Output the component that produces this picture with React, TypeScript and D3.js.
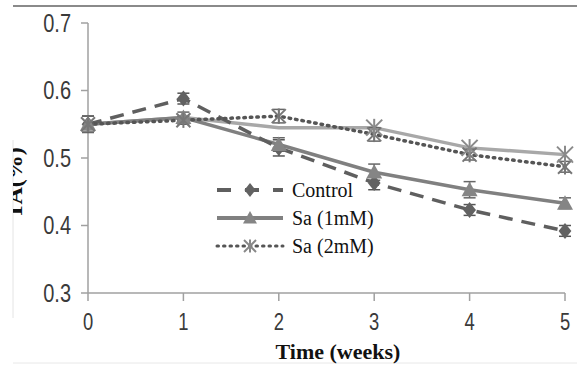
import * as d3 from "d3";

const weeks = [0, 1, 2, 3, 4, 5];
const xTicks = [0, 1, 2, 3, 4, 5];
const yTicks = [0.3, 0.4, 0.5, 0.6, 0.7];

const control = [0.55, 0.588, 0.515, 0.463, 0.423, 0.392];
const controlErr = [0.012, 0.008, 0.012, 0.01, 0.008, 0.008];
const sa1 = [0.55, 0.56, 0.52, 0.479, 0.453, 0.433];
const sa1Err = [0.012, 0.008, 0.01, 0.012, 0.012, 0.008];
const sa2 = [0.55, 0.556, 0.562, 0.535, 0.505, 0.487];
const sa2Err = [0.012, 0.006, 0.01, 0.01, 0.008, 0.008];
// light solid trace drawn under the dotted Sa (2mM) line in the original
const sa2Trace = [0.55, 0.56, 0.545, 0.545, 0.515, 0.505];

const seriesNames = ["Control", "Sa (1mM)", "Sa (2mM)"];

const W = 577;
const H = 365;
const x = d3.scaleLinear([0, 5], [88, 565]);
const y = d3.scaleLinear([0.3, 0.7], [293, 23]);

const line = d3
  .line<number>()
  .x((_, i) => x(weeks[i]))
  .y((d) => y(d));

const tickFont = "'Liberation Sans', Arial, sans-serif";
const serif = "'Liberation Serif', 'Times New Roman', serif";

function Diamond({ cx, cy, s, fill }: { cx: number; cy: number; s: number; fill: string }) {
  return (
    <path
      d={`M${cx},${cy - s}L${cx + s * 0.8},${cy}L${cx},${cy + s}L${cx - s * 0.8},${cy}Z`}
      fill={fill}
    />
  );
}

function Triangle({ cx, cy, s, fill }: { cx: number; cy: number; s: number; fill: string }) {
  return (
    <path
      d={`M${cx},${cy - s}L${cx + s},${cy + s * 0.8}L${cx - s},${cy + s * 0.8}Z`}
      fill={fill}
    />
  );
}

function Star({ cx, cy, s, stroke }: { cx: number; cy: number; s: number; stroke: string }) {
  return (
    <g stroke={stroke} strokeWidth={2}>
      <line x1={cx - s} y1={cy - s} x2={cx + s} y2={cy + s} />
      <line x1={cx - s} y1={cy + s} x2={cx + s} y2={cy - s} />
      <line x1={cx} y1={cy - s * 1.1} x2={cx} y2={cy + s * 1.1} />
    </g>
  );
}

function ErrBars({ vals, errs, color }: { vals: number[]; errs: number[]; color: string }) {
  return (
    <g stroke={color} strokeWidth={1.5}>
      {vals.map((v, i) => (
        <g key={i}>
          <line x1={x(weeks[i])} x2={x(weeks[i])} y1={y(v + errs[i])} y2={y(v - errs[i])} />
          <line x1={x(weeks[i]) - 6} x2={x(weeks[i]) + 6} y1={y(v + errs[i])} y2={y(v + errs[i])} />
          <line x1={x(weeks[i]) - 6} x2={x(weeks[i]) + 6} y1={y(v - errs[i])} y2={y(v - errs[i])} />
        </g>
      ))}
    </g>
  );
}

export default function App() {
  const axisColor = "#a0a0a0";
  return (
    <svg
      width={W}
      height={H}
      style={{ position: "absolute", left: 0, top: 0, background: "#fff" }}
    >
      <defs>
        <clipPath id="frame">
          <rect x={13} y={0} width={W} height={H} />
        </clipPath>
      </defs>

      {/* frame */}
      <line x1={13} x2={W} y1={6} y2={6} stroke="#8a8a8a" strokeWidth={2} />
      <line x1={13} x2={13} y1={140} y2={318} stroke="#e4e4e4" strokeWidth={1} />
      <line x1={13} x2={W} y1={363} y2={363} stroke="#e8e8e8" strokeWidth={1} />

      {/* y axis */}
      <line x1={x(0)} x2={x(0)} y1={y(0.7)} y2={y(0.3)} stroke={axisColor} strokeWidth={1.5} />
      {yTicks.map((t) => (
        <g key={t}>
          <line x1={x(0) - 7} x2={x(0)} y1={y(t)} y2={y(t)} stroke={axisColor} strokeWidth={1.5} />
          <text
            transform={`translate(71,${y(t)}) scale(0.8,1)`}
            dy="0.35em"
            textAnchor="end"
            fontFamily={tickFont}
            fontSize={25}
            fill="#3a3a3a"
          >
            {t.toFixed(1)}
          </text>
        </g>
      ))}

      {/* x axis */}
      <line x1={x(0)} x2={x(5)} y1={y(0.3)} y2={y(0.3)} stroke={axisColor} strokeWidth={1.5} />
      {xTicks.map((t) => (
        <g key={t}>
          <line x1={x(t)} x2={x(t)} y1={y(0.3)} y2={y(0.3) + 8} stroke={axisColor} strokeWidth={1.5} />
          <text
            transform={`translate(${x(t)},322) scale(0.8,1)`}
            dy="0.35em"
            textAnchor="middle"
            fontFamily={tickFont}
            fontSize={23}
            fill="#3a3a3a"
          >
            {t}
          </text>
        </g>
      ))}

      <text
        x={338}
        y={351}
        dy="0.35em"
        textAnchor="middle"
        fontFamily={serif}
        fontWeight="bold"
        fontSize={22}
        fill="#111"
      >
        Time (weeks)
      </text>

      <g clipPath="url(#frame)">
        <text
          transform="translate(22,183) rotate(-90)"
          textAnchor="middle"
          fontFamily={serif}
          fontWeight="bold"
          fontSize={24}
          fill="#111"
        >
          TA(%)
        </text>
      </g>

      {/* series lines */}
      <path d={line(sa2Trace) ?? ""} fill="none" stroke="#a8a8a8" strokeWidth={3.5} />
      <path d={line(sa1) ?? ""} fill="none" stroke="#808080" strokeWidth={3.5} />
      <path
        d={line(control) ?? ""}
        fill="none"
        stroke="#5f5f5f"
        strokeWidth={3.5}
        strokeDasharray="14 9"
      />
      <path
        d={line(sa2) ?? ""}
        fill="none"
        stroke="#555"
        strokeWidth={3.5}
        strokeDasharray="1.5 5"
        strokeLinecap="round"
      />

      {/* error bars */}
      <ErrBars vals={control} errs={controlErr} color="#555" />
      <ErrBars vals={sa1} errs={sa1Err} color="#666" />
      <ErrBars vals={sa2} errs={sa2Err} color="#666" />

      {/* markers */}
      {control.map((v, i) => (
        <Diamond key={"c" + i} cx={x(weeks[i])} cy={y(v)} s={8} fill="#626262" />
      ))}
      {sa1.map((v, i) => (
        <Triangle key={"a" + i} cx={x(weeks[i])} cy={y(v)} s={8} fill="#858585" />
      ))}
      {sa2.map((v, i) => (
        <Star key={"b" + i} cx={x(weeks[i])} cy={y(v)} s={7} stroke="#777" />
      ))}
      {sa2Trace.slice(3).map((v, i) => (
        <Star key={"t" + i} cx={x(weeks[i + 3])} cy={y(v)} s={8} stroke="#8a8a8a" />
      ))}

      {/* legend */}
      <g>
        {seriesNames.map((name, i) => {
          const ly = 190 + i * 28;
          return (
            <g key={name}>
              {i === 0 && (
                <>
                  <line x1={217} x2={283} y1={ly} y2={ly} stroke="#5f5f5f" strokeWidth={4} strokeDasharray="14 14" />
                  <Diamond cx={250} cy={ly} s={7} fill="#626262" />
                </>
              )}
              {i === 1 && (
                <>
                  <line x1={217} x2={283} y1={ly} y2={ly} stroke="#808080" strokeWidth={4} />
                  <Triangle cx={250} cy={ly} s={7} fill="#858585" />
                </>
              )}
              {i === 2 && (
                <>
                  <line
                    x1={217}
                    x2={283}
                    y1={ly}
                    y2={ly}
                    stroke="#555"
                    strokeWidth={3}
                    strokeDasharray="1.5 5"
                    strokeLinecap="round"
                  />
                  <Star cx={250} cy={ly} s={6} stroke="#888" />
                </>
              )}
              <text
                x={292}
                y={ly}
                dy="0.35em"
                fontFamily={serif}
                fontSize={20}
                fill="#111"
              >
                {name}
              </text>
            </g>
          );
        })}
      </g>
    </svg>
  );
}
